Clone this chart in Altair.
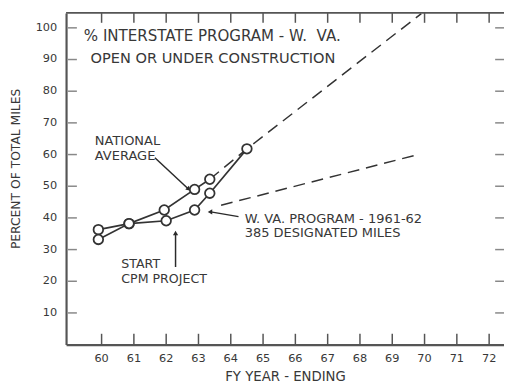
import altair as alt
import pandas as pd

# ---- data ----
nat_x = [59.9, 60.85, 61.94, 62.88, 63.35]
nat_y = [36.3, 38.2, 42.5, 49.0, 52.2]
wva_x = [59.9, 60.85, 62.0, 62.88, 63.35, 64.5]
wva_y = [33.2, 38.2, 39.1, 42.5, 47.8, 61.8]
proj_hi_x = [63.35, 64.5, 69.9]
proj_hi_y = [52.2, 61.8, 104.5]
proj_lo_x = [63.7, 69.8]
proj_lo_y = [44.0, 60.0]

x_ticks = list(range(60, 73))
y_ticks = [10, 20, 30, 40, 50, 60, 70, 80, 90, 100]

labels = ["% INTERSTATE PROGRAM - W.\u00a0 VA.", "OPEN OR UNDER CONSTRUCTION",
          "NATIONAL", "AVERAGE", "W. VA. PROGRAM - 1961-62", "385 DESIGNATED MILES",
          "START", "CPM PROJECT"]
label_x = [59.45, 59.66, 59.79, 59.79, 64.43, 64.43, 60.61, 60.61]
label_y = [97.5, 90.1, 64.4, 59.5, 39.75, 35.1, 25.5, 20.8]
label_size = [15.3, 14.8, 13.2, 13.2, 13.2, 13.2, 12.8, 12.8]

# arrows: start -> tip
arrow_id = ["a", "a", "b", "b", "c", "c"]
arrow_x = [61.65, 62.68, 64.24, 63.38, 62.29, 62.29]
arrow_y = [59.0, 49.2, 40.4, 41.9, 24.5, 35.0]
head_x = [62.68, 63.38, 62.29]
head_y = [49.2, 41.9, 35.0]
head_ang = [134, 270, 0]

W, H = 445, 337
XD = [58.9, 72.46]
YD = [0, 104.7]
INK = "#383838"
FONT = "DejaVu Sans"

xs = alt.Scale(domain=XD, nice=False, zero=False)
ys = alt.Scale(domain=YD, nice=False, zero=False)

def series(xv, yv, name):
    return pd.DataFrame({"x": xv, "y": yv, "s": name})

pts = pd.concat([series(nat_x, nat_y, "nat"), series(wva_x, wva_y, "wva")])

xenc = alt.X("x:Q", scale=xs, axis=alt.Axis(
    values=x_ticks, title="FY YEAR - ENDING", ticks=False, grid=False, labels=False,
    domainColor="#555", domainWidth=2.2,
    titleFont=FONT, titleFontSize=13.5, titleFontWeight="normal", titleColor=INK,
    titlePadding=25))
yenc = alt.Y("y:Q", scale=ys, axis=alt.Axis(
    values=y_ticks, title="PERCENT OF TOTAL MILES", ticks=False, grid=False, labels=False,
    domainColor="#555", domainWidth=2.2,
    titleFont=FONT, titleFontSize=12.5, titleFontWeight="normal", titleColor=INK,
    titlePadding=44, titleY=158))

base = alt.Chart(pts)
lines = base.mark_line(color="#333", strokeWidth=1.7).encode(x=xenc, y=yenc, detail="s:N")
points = base.mark_point(shape="circle", filled=True, fill="white", stroke="#333",
                         strokeWidth=1.8, size=95, opacity=1).encode(x="x:Q", y="y:Q")

proj = pd.concat([series(proj_hi_x, proj_hi_y, "hi"), series(proj_lo_x, proj_lo_y, "lo")])
dashed = alt.Chart(proj).mark_line(color="#333", strokeWidth=1.5, strokeDash=[12, 7],
                                   clip=True).encode(x="x:Q", y="y:Q", detail="s:N")

txt_df = pd.DataFrame({"x": label_x, "y": label_y, "t": labels, "fs": label_size})
texts = alt.Chart(txt_df).mark_text(align="left", baseline="middle", font=FONT,
                                    color=INK).encode(
    x="x:Q", y="y:Q", text="t:N", size=alt.Size("fs:Q", scale=None))

arr_df = pd.DataFrame({"x": arrow_x, "y": arrow_y, "id": arrow_id})
arr_lines = alt.Chart(arr_df).mark_line(color="#2a2a2a", strokeWidth=1.5).encode(
    x="x:Q", y="y:Q", detail="id:N")
head_df = pd.DataFrame({"x": head_x, "y": head_y, "a": head_ang})
arr_heads = alt.Chart(head_df).mark_point(shape="triangle", filled=True, color="#2a2a2a",
                                          size=28, opacity=1).encode(
    x="x:Q", y="y:Q", angle=alt.Angle("a:Q", scale=None))

xt = pd.DataFrame({"x": x_ticks})
yt = pd.DataFrame({"y": y_ticks})
tick_bottom = alt.Chart(xt).mark_rule(color="#555", strokeWidth=1.5).encode(
    x="x:Q", y=alt.value(H - 11), y2=alt.value(H))
tick_top = alt.Chart(xt).mark_rule(color="#555", strokeWidth=1.5).encode(
    x="x:Q", y=alt.value(0), y2=alt.value(10))
tick_left = alt.Chart(yt).mark_rule(color="#888", strokeWidth=1.5).encode(
    y="y:Q", x=alt.value(2), x2=alt.value(11))
tick_right = alt.Chart(yt).mark_rule(color="#888", strokeWidth=1.5).encode(
    y="y:Q", x=alt.value(W - 9), x2=alt.value(W))
top_frame = alt.Chart(pd.DataFrame({"k": [0]})).mark_rule(color="#555", strokeWidth=1.8).encode(
    x=alt.value(0), x2=alt.value(W), y=alt.value(0))

x_labels = alt.Chart(xt).mark_text(baseline="top", align="center", font=FONT,
                                   fontSize=11.5, color=INK).encode(
    x="x:Q", y=alt.value(H + 9), text=alt.Text("x:Q", format="d"))
y_labels = alt.Chart(yt).mark_text(baseline="middle", align="right", font=FONT,
                                   fontSize=11.5, color=INK).encode(
    y="y:Q", x=alt.value(-9), text=alt.Text("y:Q", format="d"))

chart = alt.layer(
    lines, dashed, tick_bottom, tick_top, tick_left, tick_right, top_frame,
    arr_lines, arr_heads, points, texts, x_labels, y_labels
).properties(
    width=W, height=H,
    autosize=alt.AutoSizeParams(type="none"),
    padding={"left": 59, "top": 2, "right": 0, "bottom": 38},
    background="white",
).configure_view(stroke=None)

chart.save("out.html", embed_options={"renderer": "svg", "actions": False})
